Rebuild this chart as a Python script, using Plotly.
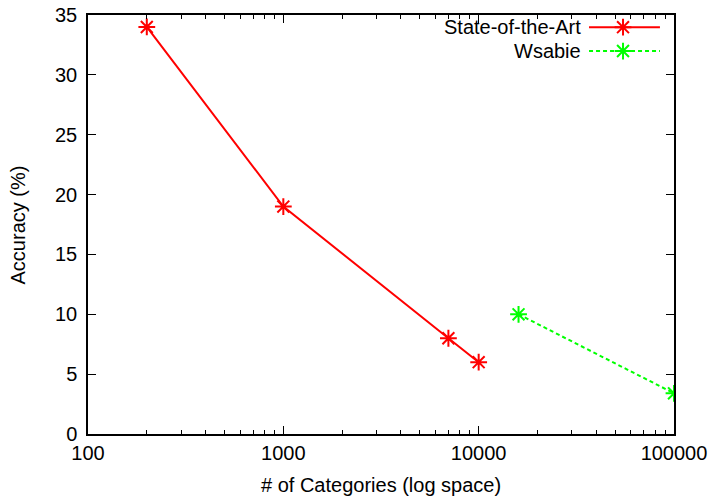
import plotly.graph_objects as go

sota_x = [200, 1000, 7000, 10000]
sota_y = [34, 19, 8, 6]
wsabie_x = [16000, 100000]
wsabie_y = [10, 3.4]
x_ticks = [100, 1000, 10000, 100000]
x_tick_labels = ["100", "1000", "10000", "100000"]
x_minor_ticks = [m * d for d in (100, 1000, 10000) for m in range(2, 10)]
y_ticks = [0, 5, 10, 15, 20, 25, 30, 35]
series_names = ["State-of-the-Art", "Wsabie"]
x_title = "# of Categories (log space)"
y_title = "Accuracy (%)"

FONT = "Arial, 'Liberation Sans', Helvetica, sans-serif"
FS = 20
RED = "#ff0000"
GREEN = "#00ff00"

def star(color):
    return dict(symbol="asterisk-open", size=14, color=color, line=dict(color=color, width=2))

fig = go.Figure()
fig.add_trace(go.Scatter(
    x=sota_x, y=sota_y, mode="lines+markers", name=series_names[0],
    line=dict(color=RED, width=2), marker=star(RED), showlegend=False,
))
fig.add_trace(go.Scatter(
    x=wsabie_x, y=wsabie_y, mode="lines+markers", name=series_names[1],
    line=dict(color=GREEN, width=2, dash="4px,3px"), marker=star(GREEN), showlegend=False,
))

# gnuplot-style legend (text left of sample) on a hidden overlay axis
leg_y = [0.971, 0.914]
for name, color, dash, ly in [(series_names[0], RED, "solid", leg_y[0]),
                              (series_names[1], GREEN, "4px,3px", leg_y[1])]:
    fig.add_trace(go.Scatter(
        x=[0.855, 0.976], y=[ly, ly], xaxis="x2", yaxis="y2", mode="lines",
        line=dict(color=color, width=2, dash=dash), showlegend=False, hoverinfo="skip"))
    fig.add_trace(go.Scatter(
        x=[0.913], y=[ly], xaxis="x2", yaxis="y2", mode="markers",
        marker=star(color), showlegend=False, hoverinfo="skip"))
    fig.add_annotation(x=0.845, y=ly, xref="x2", yref="y2", text=name, showarrow=False,
                       xanchor="right", yanchor="middle", font=dict(family=FONT, size=FS, color="black"))

# axis titles placed as in the reference
fig.add_annotation(x=0.5, y=-0.1217, xref="paper", yref="paper", text=x_title, showarrow=False,
                   xanchor="center", yanchor="middle", font=dict(family=FONT, size=FS, color="black"))
fig.add_annotation(x=-0.1195, y=0.5, xref="paper", yref="paper", text=y_title, showarrow=False,
                   textangle=-90, xanchor="center", yanchor="middle",
                   font=dict(family=FONT, size=FS, color="black"))

fig.update_layout(
    width=709, height=497,
    margin=dict(l=88, r=35, t=15, b=63, autoexpand=False),
    paper_bgcolor="white", plot_bgcolor="white",
    font=dict(family=FONT, size=FS, color="black"),
    xaxis=dict(
        type="log", range=[2, 5], tickvals=x_ticks, ticktext=x_tick_labels,
        ticks="inside", ticklen=8, tickwidth=1, tickcolor="black",
        showline=True, linecolor="black", linewidth=1.5, mirror="allticks",
        showgrid=False, zeroline=False, automargin=False, ticklabeloverflow="allow",
        tickfont=dict(family=FONT, size=FS),
        minor=dict(tickvals=x_minor_ticks, ticks="inside", ticklen=4, tickcolor="black", showgrid=False),
    ),
    yaxis=dict(
        range=[0, 35], tickvals=y_ticks,
        ticks="inside", ticklen=8, tickwidth=1, tickcolor="black",
        showline=True, linecolor="black", linewidth=1.5, mirror="allticks",
        showgrid=False, zeroline=False, automargin=False, ticklabeloverflow="allow",
        ticklabelstandoff=5,
        tickfont=dict(family=FONT, size=FS),
    ),
    xaxis2=dict(range=[0, 1], overlaying="x", visible=False, fixedrange=True),
    yaxis2=dict(range=[0, 1], overlaying="y", visible=False, fixedrange=True),
)

fig.write_html("out.html", config={"displayModeBar": False},
               post_script="document.body.style.margin='0';")
